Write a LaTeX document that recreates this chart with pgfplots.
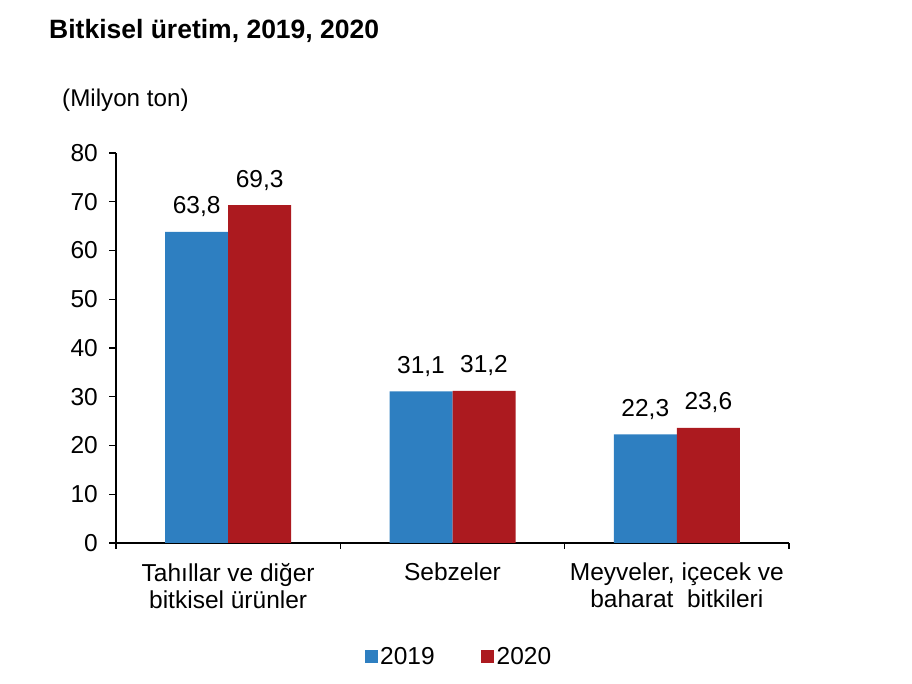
\documentclass[border=0pt]{standalone}
\usepackage{fontspec}
\setmainfont{Liberation Sans}
\usepackage{pgfplots}
\pgfplotsset{compat=1.18}
\definecolor{cblue}{RGB}{46,127,193}
\definecolor{cred}{RGB}{172,26,31}
\begin{document}
\begin{tikzpicture}[x=1pt,y=1pt]
\path[use as bounding box] (0,0) rectangle (912,684);
\node[anchor=west,font=\fontsize{26.5}{30}\selectfont\bfseries,inner sep=0pt] at (49,653) {Bitkisel üretim, 2019, 2020};
\node[anchor=west,font=\fontsize{24.2}{27}\selectfont,inner sep=0pt] at (62,584) {(Milyon ton)};
\begin{axis}[
  at={(116pt,141pt)}, anchor=south west,
  scale only axis, width=673pt, height=390pt,
  xmin=-0.5, xmax=2.5, ymin=0, ymax=80,
  axis x line*=bottom, axis y line*=left,
  axis line style={line width=1.1pt, black},
  ytick={0,10,...,80},
  xtick={0,1,2},
  xticklabels={{Tahıllar ve diğer\\bitkisel ürünler},{Sebzeler},{Meyveler, içecek ve\\baharat\ \ bitkileri}},
  major x tick style={draw=none},
  minor xtick={-0.5,0.5,1.5,2.5},
  minor x tick style={line width=1.1pt, black},
  minor tick length=6pt,
  major tick length=7pt,
  tick align=outside,
  y tick style={line width=1.1pt, black},
  /pgf/number format/assume math mode=true,
  tick label style={font=\fontsize{24.5}{27}\selectfont},
  yticklabel style={inner sep=0pt, xshift=-11pt},
  xticklabel style={align=center, inner sep=0pt, yshift=-13pt},
  ybar=0pt, bar width=63pt,
  nodes near coords={\pgfmathprintnumber[fixed,fixed zerofill,precision=1,use comma,assume math mode=true]{\pgfplotspointmeta}},
  every node near coord/.append style={font=\fontsize{24.5}{27}\selectfont, anchor=base, inner sep=0pt, yshift=18pt},
  legend columns=2,
  legend image code/.code={\fill[#1] (0pt,-6.5pt) rectangle (13pt,6.5pt);},
  legend style={draw=none, fill=none, at={(0.51,-0.292)}, anchor=center, font=\fontsize{24.5}{27}\selectfont,
    /tikz/every even column/.append style={column sep=44pt},
    nodes={inner sep=2.5pt}},
  clip=false,
]
\addplot[fill=cblue, draw=none] coordinates {(0,63.8) (1,31.1) (2,22.3)};
\addplot[fill=cred, draw=none] coordinates {(0,69.3) (1,31.2) (2,23.6)};
\legend{2019,2020}
\end{axis}
\end{tikzpicture}
\end{document}
